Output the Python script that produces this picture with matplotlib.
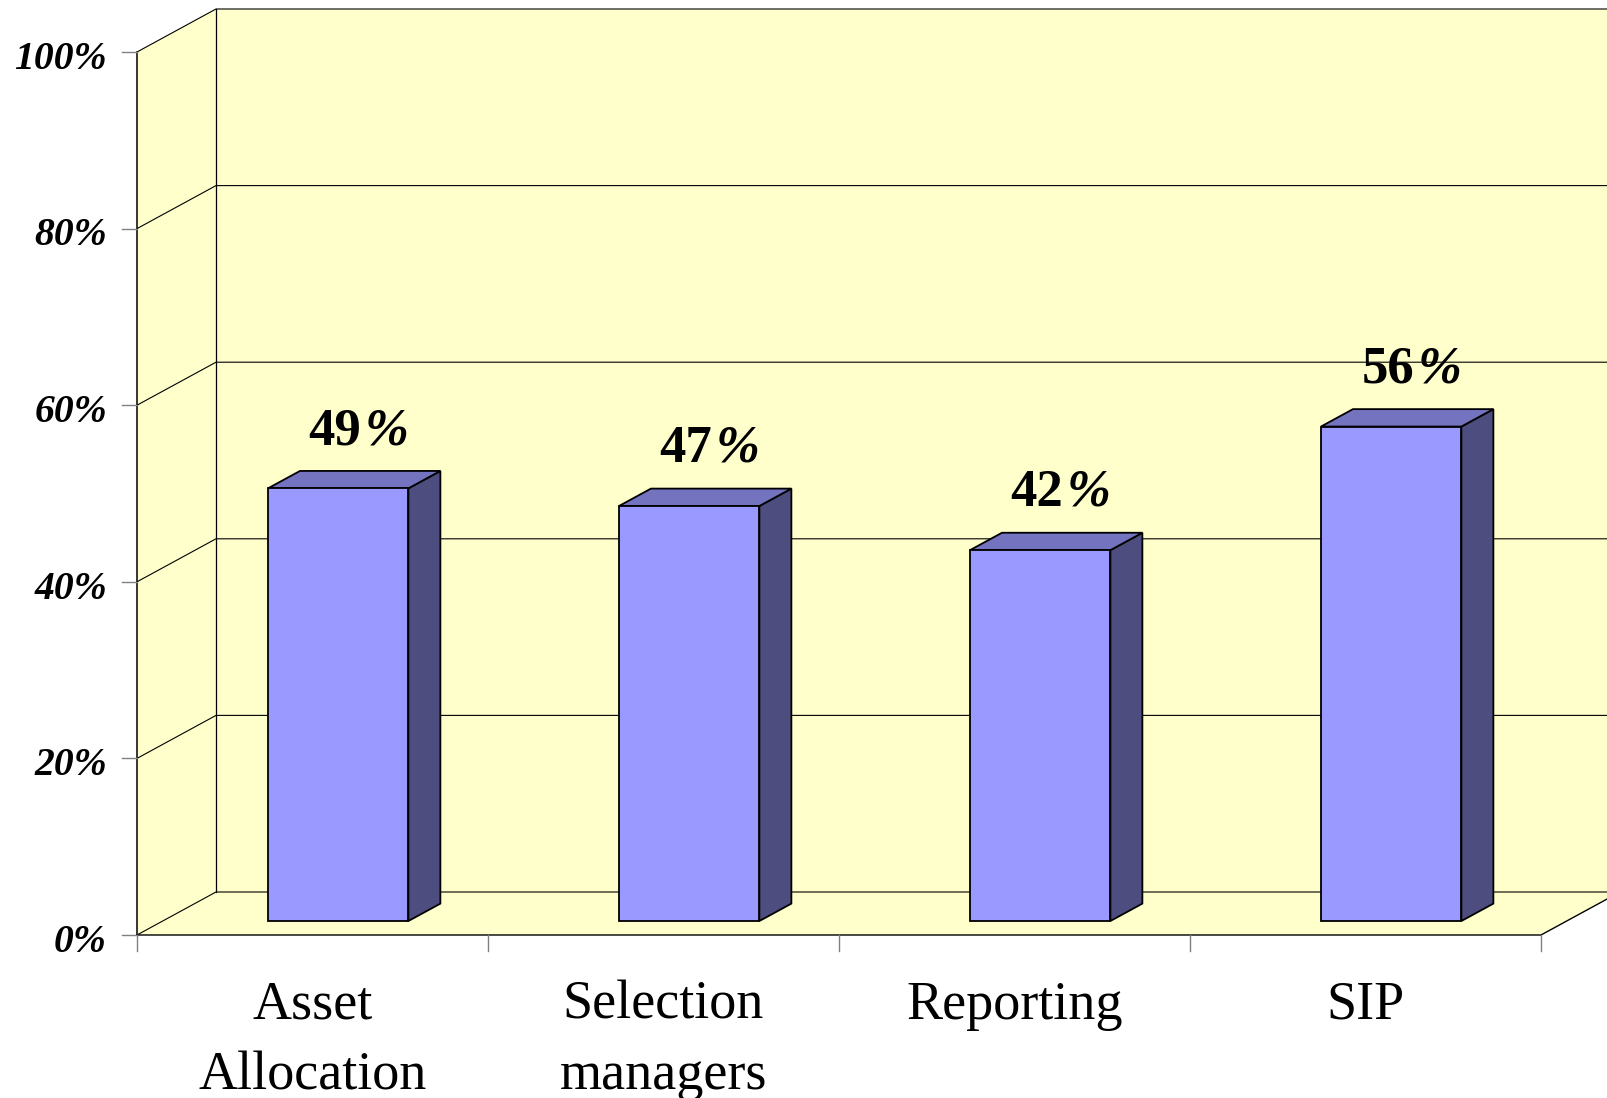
import numpy as np
import matplotlib
matplotlib.use("Agg")
import matplotlib.pyplot as plt
from matplotlib.patches import Polygon

categories = ["Asset\nAllocation", "Selection\nmanagers", "Reporting", "SIP"]
values = [49, 47, 42, 56]
value_labels = ["49", "47", "42", "56"]
yticks = [0, 20, 40, 60, 80, 100]
ytick_labels = ["0%", "20%", "40%", "60%", "80%", "100%"]

# layout in pixels (figure is 1608 x 1098)
W, H = 1608, 1098
X0_PX, CAT_PX = 137, 351          # front-left corner, width of one category
Y0_PX, UNIT_PX = 935, 8.83        # 0% line (from top), pixels per percent
DEPTH_PX = (79, 43)               # 3d depth offset

DX = DEPTH_PX[0] / CAT_PX
DY = DEPTH_PX[1] / UNIT_PX
D0, D1 = 0.325, 0.73              # bar depth span (fraction of wall depth)
BAR_W = 0.4

WALL = "#FFFFCC"
FRONT = "#9999FF"
TOP = "#7373BF"
SIDE = "#4D4D80"

plt.rcParams["font.family"] = ["Liberation Serif", "DejaVu Serif"]

fig = plt.figure(figsize=(W / 100, H / 100), dpi=100)
ax = fig.add_axes([0, 0, 1, 1])
ax.set_xlim(-X0_PX / CAT_PX, (W - X0_PX) / CAT_PX)
ax.set_ylim(-(H - Y0_PX) / UNIT_PX, Y0_PX / UNIT_PX)
ax.axis("off")

n = len(categories)
ymax = yticks[-1]

# walls and floor
ax.add_patch(Polygon([(DX, DY), (n + DX, DY), (n + DX, ymax + DY), (DX, ymax + DY)],
                     closed=True, fc=WALL, ec="none", zorder=0))
ax.add_patch(Polygon([(0, 0), (DX, DY), (DX, ymax + DY), (0, ymax)],
                     closed=True, fc=WALL, ec="none", zorder=0))
ax.add_patch(Polygon([(0, 0), (n, 0), (n + DX, DY), (DX, DY)],
                     closed=True, fc=WALL, ec="none", zorder=0))

# gridlines on side and back walls
for v in yticks:
    ax.plot([0, DX, n + DX], [v, v + DY, v + DY], color="black", lw=0.8, zorder=1)

# frame edges
ax.plot([0, 0], [0, ymax], color="black", lw=1.1, zorder=1)
ax.plot([DX, DX], [DY, ymax + DY], color="black", lw=0.9, zorder=1)
ax.plot([0, n, n + DX], [0, 0, DY], color="black", lw=1.0, zorder=1)

# ticks
tick_x = 15 / CAT_PX
tick_y = 16 / UNIT_PX
for v, lab in zip(yticks, ytick_labels):
    ax.plot([-tick_x, 0], [v, v], color="#808080", lw=1.0, zorder=1)
    ax.text(-30 / CAT_PX, v - 1.9, lab, ha="right", va="baseline",
            fontsize=28.5, fontweight="bold", fontstyle="italic")
for i in range(n + 1):
    ax.plot([i, i], [0, -tick_y], color="#808080", lw=1.0, zorder=1)

# bars
for i, v in enumerate(values):
    x0 = i + 0.5 - BAR_W / 2
    x1 = i + 0.5 + BAR_W / 2
    fx, fy = D0 * DX, D0 * DY
    bx, by = D1 * DX, D1 * DY
    front = [(x0 + fx, fy), (x1 + fx, fy), (x1 + fx, v + fy), (x0 + fx, v + fy)]
    top = [(x0 + fx, v + fy), (x1 + fx, v + fy), (x1 + bx, v + by), (x0 + bx, v + by)]
    side = [(x1 + fx, fy), (x1 + bx, by), (x1 + bx, v + by), (x1 + fx, v + fy)]
    for pts, c in [(side, SIDE), (top, TOP), (front, FRONT)]:
        ax.add_patch(Polygon(pts, closed=True, fc=c, ec="black", lw=1.3,
                             joinstyle="miter", zorder=3))

    # value label: bold digits, slanted percent sign
    cx = i + 0.5 + 0.58 * (D0 + D1) * DX
    ax.text(cx, v + 6.6, value_labels[i], ha="right", va="baseline",
            fontsize=38, fontweight="bold", zorder=5)
    ax.annotate("%", (cx, v + 6.6), xytext=(3, 0), textcoords="offset points",
                ha="left", va="baseline", fontsize=38, fontweight="bold",
                fontstyle="italic", zorder=5)

# category labels
for i, lab in enumerate(categories):
    ax.text(i + 0.5, -5.1, lab, ha="center", va="top", fontsize=39,
            linespacing=1.52)

fig.savefig("out.png", dpi=100, facecolor="white")
